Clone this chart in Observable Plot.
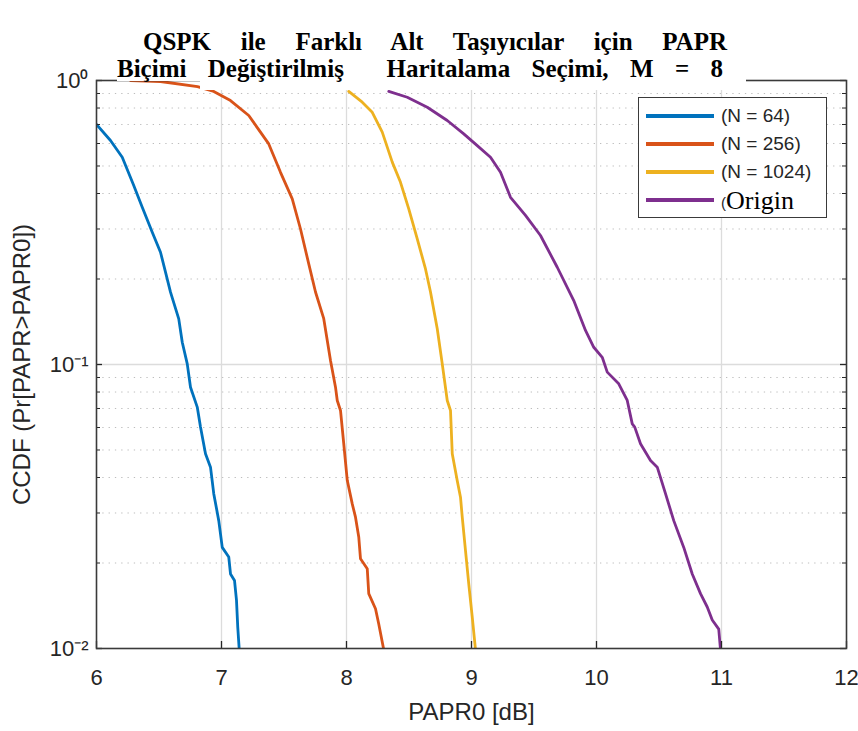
<!DOCTYPE html>
<html><head><meta charset="utf-8">
<script src="https://cdn.jsdelivr.net/npm/d3@7"></script>
<script src="https://cdn.jsdelivr.net/npm/@observablehq/plot@0.6"></script>
<style>
body{margin:0;background:#fff;}
#wrap{position:relative;width:858px;height:731px;overflow:hidden;background:#fff;}
.ttl{position:absolute;font-family:"Liberation Serif","Times New Roman",serif;font-weight:bold;white-space:pre;color:#000;line-height:22px;height:22px;}
.mask{position:absolute;background:#fff;}
#legend{position:absolute;left:638px;top:97px;width:189px;height:121px;border:1.6px solid #3a3a3a;background:#fff;box-sizing:border-box;}
.lrow{position:absolute;left:7px;height:0;}
.lsw{position:absolute;left:0;width:68px;height:4px;top:-2px;}
.ltx{position:absolute;left:75px;top:-12px;font-family:"Liberation Sans",Arial,sans-serif;font-size:19px;color:#262626;white-space:pre;line-height:24px;}
</style></head><body><div id="wrap"></div>
<script>
// ---- data ----
const names = ["(N = 64)", "(N = 256)", "(N = 1024)", "Origin"];
const colors = ["#0072BD", "#D95319", "#EDB120", "#7E2F8E"];

const n64X = [6.0, 6.112, 6.206, 6.298, 6.366, 6.446, 6.512, 6.552, 6.592, 6.658, 6.686, 6.726, 6.752, 6.806, 6.832, 6.872, 6.912, 6.938, 6.978, 7.006, 7.058, 7.072, 7.104, 7.12, 7.130, 7.142];
const n64Y = [0.70, 0.615, 0.537, 0.427, 0.358, 0.292, 0.2485, 0.2114, 0.1797, 0.1448, 0.1198, 0.1005, 0.0832, 0.0708, 0.0602, 0.0485, 0.0435, 0.0351, 0.0282, 0.0227, 0.021, 0.0183, 0.01736, 0.01476, 0.01189, 0.0099];

const n256X = [6.272, 6.512, 6.808, 6.938, 7.072, 7.218, 7.378, 7.472, 7.566, 7.632, 7.698, 7.752, 7.818, 7.872, 7.912, 7.926, 7.952, 7.978, 8.006, 8.046, 8.072, 8.098, 8.112, 8.166, 8.178, 8.232, 8.258, 8.298];
const n256Y = [1.0, 0.992, 0.952, 0.915, 0.850, 0.753, 0.598, 0.475, 0.383, 0.300, 0.226, 0.180, 0.145, 0.1033, 0.0832, 0.0747, 0.0689, 0.0526, 0.0391, 0.0323, 0.029, 0.0247, 0.0207, 0.0191, 0.0156, 0.0138, 0.0122, 0.0099];

const n1024X = [8.018, 8.126, 8.206, 8.286, 8.366, 8.432, 8.498, 8.566, 8.632, 8.672, 8.726, 8.766, 8.806, 8.832, 8.846, 8.886, 8.912, 8.926, 8.952, 8.978, 9.006, 9.032];
const n1024Y = [0.915, 0.839, 0.773, 0.658, 0.516, 0.438, 0.353, 0.277, 0.217, 0.18, 0.1336, 0.1005, 0.0747, 0.0689, 0.0485, 0.039, 0.0341, 0.029, 0.0221, 0.0169, 0.0129, 0.0099];

const originX = [8.338, 8.486, 8.646, 8.806, 8.938, 9.046, 9.152, 9.232, 9.312, 9.432, 9.552, 9.686, 9.818, 9.912, 9.978, 10.046, 10.086, 10.178, 10.246, 10.286, 10.306, 10.352, 10.432, 10.486, 10.552, 10.618, 10.698, 10.766, 10.832, 10.886, 10.926, 10.978, 10.992];
const originY = [0.915, 0.873, 0.805, 0.723, 0.649, 0.590, 0.537, 0.475, 0.388, 0.335, 0.2846, 0.220, 0.168, 0.1318, 0.115, 0.106, 0.094, 0.0855, 0.0747, 0.0618, 0.0602, 0.0526, 0.0459, 0.0435, 0.0351, 0.0282, 0.0227, 0.0183, 0.0156, 0.014, 0.0126, 0.0117, 0.0099];

const xTicks = [6, 7, 8, 9, 10, 11, 12];
const yTicks = [1, 0.1, 0.01];
const yTickLabels = ["10\u2070", "10\u207B\u00B9", "10\u207B\u00B2"];
const titleLine1 = "QSPK ile Farklı Alt Taşıyıcılar için PAPR";
const titleLine2 = "Biçimi Değiştirilmiş  Haritalama Seçimi, M = 8";
const xLabel = "PAPR0 [dB]";
const yLabel = "CCDF (Pr[PAPR>PAPR0])";

// ---- build ----
const seriesXs = [n64X, n256X, n1024X, originX];
const seriesYs = [n64Y, n256Y, n1024Y, originY];
const rows = [];
names.forEach((n, i) => seriesXs[i].forEach((x, j) => rows.push({series: n, x, y: seriesYs[i][j]})));

const minor = [];
for (const dec of [0.01, 0.1]) for (let k = 2; k <= 9; k++) minor.push(+(dec * k).toFixed(4));

const tickLenY = 6 / 125;
const tickLenYMin = 4 / 125;
const tickFacX = Math.pow(10, 7 / 284);

const plot = Plot.plot({
  width: 858, height: 731,
  marginTop: 80, marginLeft: 96, marginRight: 12, marginBottom: 83,
  x: {domain: [6, 12], label: null},
  y: {type: "log", domain: [0.01, 1], label: null},
  color: {domain: names, range: colors},
  style: {fontFamily: "'Liberation Sans', Arial, sans-serif", fontSize: "22px", color: "#262626", background: "white", overflow: "visible"},
  marks: [
    Plot.ruleY(minor, {stroke: "#bdbdbd", strokeWidth: 1, strokeDasharray: "1.3,5"}),
    Plot.ruleX(xTicks.slice(1, -1), {stroke: "#dcdcdc", strokeWidth: 1.3}),
    Plot.ruleY([0.1], {stroke: "#dcdcdc", strokeWidth: 1.3}),
    Plot.line(rows, {x: "x", y: "y", z: "series", stroke: "series", strokeWidth: 2.8, clip: true}),
    Plot.ruleX(xTicks, {y1: 0.01, y2: 0.01 * tickFacX, stroke: "#262626", strokeWidth: 1.3}),
    Plot.ruleY(minor, {x1: 6, x2: 6 + tickLenYMin, stroke: "#262626", strokeWidth: 1}),
    Plot.ruleY(minor, {x1: 12 - tickLenYMin, x2: 12, stroke: "#262626", strokeWidth: 1}),
    Plot.ruleY(yTicks, {x1: 6, x2: 6 + tickLenY, stroke: "#262626", strokeWidth: 1.3}),
    Plot.ruleY(yTicks, {x1: 12 - tickLenY, x2: 12, stroke: "#262626", strokeWidth: 1.3}),
    Plot.frame({stroke: "#3a3a3a", strokeWidth: 1.6}),
    Plot.axisX({ticks: xTicks, tickSize: 0, tickPadding: 21, tickFormat: d => String(d), label: null, fontSize: 22}),
    Plot.axisX({ticks: [], label: xLabel, labelAnchor: "center", labelArrow: "none", labelOffset: 71, fontSize: 24}),
    Plot.axisY({ticks: yTicks, tickSize: 0, tickPadding: 8, tickFormat: d => yTickLabels[yTicks.indexOf(d)], label: null, fontSize: 22}),
    Plot.axisY({ticks: [], label: yLabel, labelAnchor: "center", labelArrow: "none", labelOffset: 84, fontSize: 24})
  ]
});
const wrap = document.getElementById("wrap");
wrap.appendChild(plot);
plot.style.position = "absolute"; plot.style.left = "0"; plot.style.top = "0";

function mask(l, t, w, h) { const m = document.createElement("div"); m.className = "mask";
  Object.assign(m.style, {left: l + "px", top: t + "px", width: w + "px", height: h + "px"}); wrap.appendChild(m); }
mask(117, 56, 629, 25);
mask(200, 80, 546, 10);

function titleLine(text, left, width, top, size) {
  const d = document.createElement("div"); d.className = "ttl"; d.textContent = text;
  d.style.fontSize = size + "px"; d.style.left = left + "px"; d.style.top = top + "px";
  wrap.appendChild(d);
  const nat = d.getBoundingClientRect().width;
  const spaces = (text.match(/ /g) || []).length;
  if (spaces) d.style.wordSpacing = ((width - nat) / spaces) + "px";
}
titleLine(titleLine1, 143, 584, 31, 25);
titleLine(titleLine2, 117, 606, 58, 25);

const lg = document.createElement("div"); lg.id = "legend"; wrap.appendChild(lg);
const rowY = [18, 46, 74, 102];
names.forEach((n, i) => {
  const r = document.createElement("div"); r.className = "lrow"; r.style.top = rowY[i] + "px";
  const sw = document.createElement("div"); sw.className = "lsw"; sw.style.background = colors[i];
  const tx = document.createElement("div"); tx.className = "ltx";
  if (n === "Origin") {
    tx.innerHTML = '<span style="font-size:15px">(</span><span style="font-family:\'Liberation Serif\',serif;font-size:26px;color:#000;position:relative;top:1px">' + n + '</span>';
  } else tx.textContent = n;
  r.appendChild(sw); r.appendChild(tx); lg.appendChild(r);
});
</script></body></html>
